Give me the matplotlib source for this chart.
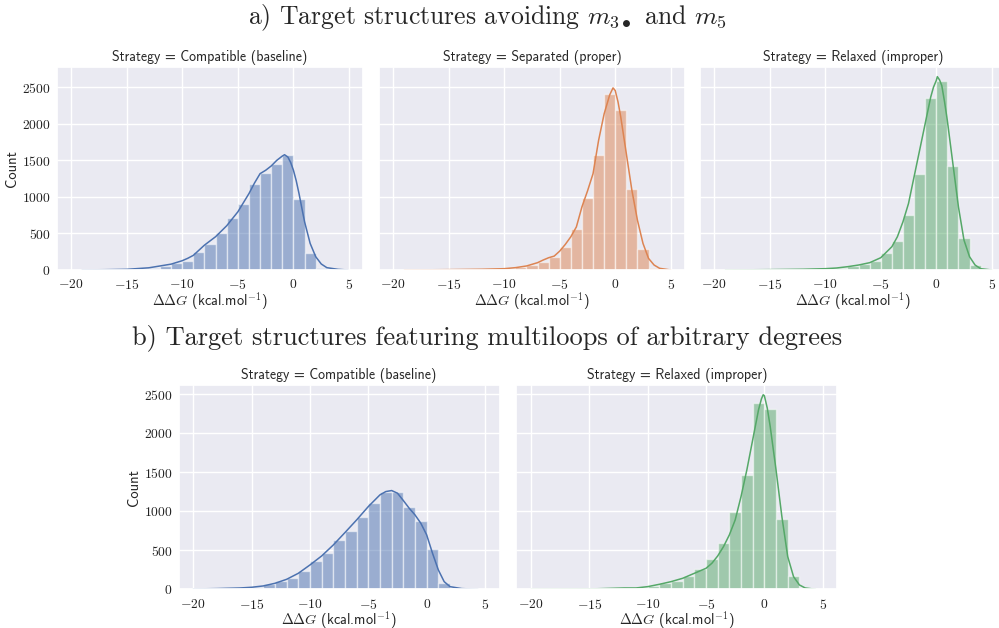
import numpy as np
import matplotlib
matplotlib.use("Agg")
import matplotlib.pyplot as plt
import seaborn as sns

# ---------------- data ----------------
bin_edges = list(range(-20, 6))  # 25 bins of width 1, left edges -20..4

# (a) Target structures avoiding m3• and m5
a_compatible_counts = [0, 2, 2, 3, 5, 8, 15, 32, 55, 91, 127, 241, 355, 500, 705,
                       900, 1173, 1327, 1455, 1568, 970, 236, 32, 5, 1]
a_separated_counts = [0, 1, 1, 1, 2, 2, 3, 3, 4, 5, 18, 45, 68, 105, 182,
                      318, 555, 986, 1568, 2409, 2195, 1105, 286, 32, 2]
a_relaxed_counts = [0, 1, 1, 1, 2, 2, 3, 4, 5, 8, 14, 27, 50, 82, 127,
                    227, 395, 750, 1309, 2355, 2582, 1418, 441, 68, 5]

# (b) Target structures featuring multiloops of arbitrary degrees
b_compatible_counts = [3, 5, 8, 13, 21, 34, 68, 107, 150, 235, 363, 470, 633, 752, 923,
                       1103, 1244, 1244, 1060, 880, 517, 85, 8, 2, 1]
b_relaxed_counts = [0, 1, 1, 1, 2, 3, 4, 6, 8, 17, 47, 85, 107, 171, 256,
                    389, 598, 996, 1466, 2385, 2312, 902, 171, 13, 2]

# KDE curves (in count units)
a_compatible_kde_x = [-19, -17, -15, -13, -12, -11, -10, -9.5, -9, -8, -7, -6, -5, -4, -3.5, -3,
                      -2.5, -2, -1.5, -1, -0.8, -0.5, -0.25, 0, 0.25, 0.5, 0.75, 1, 1.5, 2, 2.5, 3, 4, 4.9]
a_compatible_kde_y = [1, 4, 9, 30, 55, 80, 127, 160, 200, 340, 455, 605, 795, 1045, 1190, 1318,
                      1364, 1423, 1500, 1559, 1577, 1545, 1470, 1364, 1220, 1045, 850, 659, 364, 182, 82, 32, 9, 0]

a_separated_kde_x = [-19, -15, -12, -10, -9, -8, -7, -6.5, -6, -5.5, -5, -4.5, -4, -3.5, -3, -2.5, -2, -1.5,
                     -1, -0.5, -0.2, 0, 0.25, 0.5, 1, 1.5, 2, 2.5, 3, 3.5, 4, 5]
a_separated_kde_y = [0, 5, 10, 18, 32, 55, 100, 136, 168, 190, 259, 350, 455, 590, 864, 1080, 1318, 1773,
                     2136, 2395, 2491, 2455, 2300, 2091, 1591, 1091, 682, 364, 159, 68, 23, 0]

a_relaxed_kde_x = [-19, -15, -12, -10, -9, -8, -7, -6, -5, -4, -3.5, -3, -2.5, -2, -1.5, -1, -0.5,
                   -0.25, 0, 0.1, 0.3, 0.5, 0.75, 1, 1.5, 2, 2.5, 3, 3.5, 4, 5]
a_relaxed_kde_y = [0, 5, 10, 18, 27, 45, 68, 100, 168, 318, 455, 659, 909, 1273, 1636, 2000, 2364,
                   2500, 2591, 2645, 2600, 2523, 2300, 2045, 1455, 864, 409, 182, 68, 18, 0]

b_compatible_kde_x = [-20, -18, -16, -15, -14, -13, -12, -11, -10, -9, -8, -7, -6, -5, -4, -3.5, -3,
                      -2.5, -2, -1.5, -1, -0.5, 0, 0.5, 1, 1.5, 2, 3, 4.4]
b_compatible_kde_y = [4, 9, 17, 26, 43, 77, 128, 205, 312, 427, 568, 727, 889, 1060, 1210, 1252, 1265,
                      1231, 1137, 1039, 953, 846, 697, 462, 248, 98, 34, 9, 0]

b_relaxed_kde_x = [-20, -15, -12, -11, -10, -9, -8, -7, -6, -5, -4.5, -4, -3.5, -3, -2.5, -2, -1.5,
                   -1, -0.5, -0.25, -0.1, 0, 0.25, 0.5, 1, 1.5, 2, 2.5, 3, 3.5, 4.4]
b_relaxed_kde_y = [0, 4, 17, 17, 34, 64, 98, 141, 205, 269, 333, 427, 547, 697, 889, 1188, 1530,
                   1915, 2299, 2440, 2492, 2479, 2320, 2086, 1530, 932, 419, 162, 56, 17, 0]

colors = {"blue": "#4C72B0", "orange": "#DD8452", "green": "#55A868"}
x_ticks = [-20, -15, -10, -5, 0, 5]
y_ticks = [0, 500, 1000, 1500, 2000, 2500]

# ---------------- style ----------------
sns.set_theme(style="darkgrid")
plt.rcParams["font.family"] = ["cmr10", "DejaVu Serif"]
plt.rcParams["mathtext.fontset"] = "cm"
plt.rcParams["axes.formatter.use_mathtext"] = True
plt.rcParams["axes.unicode_minus"] = True

W, H = 999, 628
fig = plt.figure(figsize=(W / 100, H / 100), dpi=100)

def px_axes(left, top, width, height):
    return fig.add_axes([left / W, 1 - (top + height) / H, width / W, height / H])

SANS = "cmss10"

def draw(ax, counts, kx, ky, color, title, show_y):
    ax.bar(bin_edges[:-1], counts, width=1.0, align="edge", color=color, alpha=0.5,
           edgecolor="white", linewidth=1.0)
    ax.plot(kx, ky, color=color, lw=1.1)
    ax.set_xlim(-21.25, 6.25)
    ax.set_xticks(x_ticks)
    ax.set_xticklabels([r"$%d$" % t for t in x_ticks])
    ax.set_yticks(y_ticks)
    if show_y:
        ax.set_yticklabels([r"$%d$" % t for t in y_ticks])
        ax.set_ylabel("Count", family=SANS, fontsize=10.5, labelpad=2)
    else:
        ax.set_yticklabels([])
    ax.tick_params(axis="y", labelsize=9.8, pad=-1.5, colors="#222222")
    ax.tick_params(axis="x", labelsize=9.8, pad=0, colors="#222222")
    ax.set_title("Strategy = " + title, family=SANS, fontsize=10, pad=4)
    ax.set_xlabel(r"$\Delta\Delta G$ (kcal.mol$^{-1}$)", family=SANS, fontsize=10.3, labelpad=-1.5)

# top row
top_y, top_h = 67, 203
ax1 = px_axes(57, top_y, 306, top_h)
ax2 = px_axes(379.4, top_y, 305.2, top_h)
ax3 = px_axes(700.4, top_y, 305.2, top_h)
draw(ax1, a_compatible_counts, a_compatible_kde_x, a_compatible_kde_y, colors["blue"],
     "Compatible (baseline)", True)
draw(ax2, a_separated_counts, a_separated_kde_x, a_separated_kde_y, colors["orange"],
     "Separated (proper)", False)
draw(ax3, a_relaxed_counts, a_relaxed_kde_x, a_relaxed_kde_y, colors["green"],
     "Relaxed (improper)", False)
for ax in (ax1, ax2, ax3):
    ax.set_ylim(0, 2777)

# bottom row
bot_y, bot_h = 385, 204.3
ax4 = px_axes(178.7, bot_y, 320.9, bot_h)
ax5 = px_axes(516.4, bot_y, 320.9, bot_h)
draw(ax4, b_compatible_counts, b_compatible_kde_x, b_compatible_kde_y, colors["blue"],
     "Compatible (baseline)", True)
draw(ax5, b_relaxed_counts, b_relaxed_kde_x, b_relaxed_kde_y, colors["green"],
     "Relaxed (improper)", False)
for ax in (ax4, ax5):
    ax.set_ylim(0, 2617)

fig.text(487 / W, 1 - 18 / H, r"a) Target structures avoiding $m_{3\bullet}$ and $m_5$",
         ha="center", va="center", fontsize=18.5)
fig.text(487 / W, 1 - 338 / H, "b) Target structures featuring multiloops of arbitrary degrees",
         ha="center", va="center", fontsize=19)

fig.savefig("out.png", dpi=100)
